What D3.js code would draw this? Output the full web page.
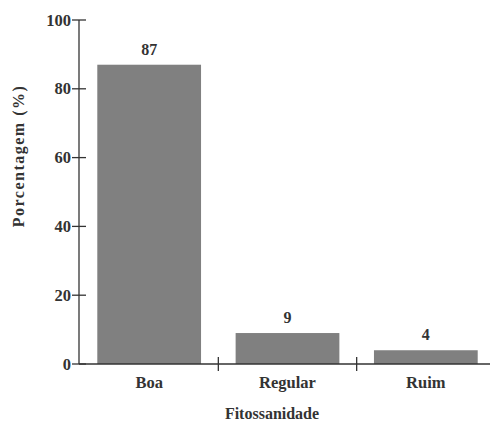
<!DOCTYPE html>
<html>
<head>
<meta charset="utf-8">
<script src="https://cdn.jsdelivr.net/npm/d3@7"></script>
<style>
  body { margin: 0; background: #fff; }
  text { font-family: "Liberation Serif", "DejaVu Serif", serif; font-weight: bold; fill: #333; }
</style>
</head>
<body>
<script>
const categories = ["Boa", "Regular", "Ruim"];
const values = [87, 9, 4];
const yTicks = [0, 20, 40, 60, 80, 100];

const width = 490, height = 421;
const svg = d3.select("body").append("svg")
  .attr("width", width)
  .attr("height", height);

const x = d3.scaleBand().domain(categories).range([80, 495]).paddingInner(0.25).paddingOuter(0.125);
const y = d3.scaleLinear().domain([0, 100]).range([364, 20]);

// bars
svg.append("g").selectAll("rect")
  .data(values)
  .enter()
  .append("rect")
  .attr("x", (d, i) => x(categories[i]))
  .attr("width", x.bandwidth())
  .attr("y", d => y(d))
  .attr("height", d => y(0) - y(d))
  .attr("fill", "#808080");

// value labels
svg.append("g").selectAll("text")
  .data(values)
  .enter()
  .append("text")
  .attr("x", (d, i) => x(categories[i]) + x.bandwidth() / 2)
  .attr("y", d => y(d) - 10)
  .attr("text-anchor", "middle")
  .style("font-size", "16px")
  .text(d => d);

// y axis
const yAxis = svg.append("g").attr("transform", "translate(79,0)");
yAxis.append("line").attr("y1", y(100)).attr("y2", y(0)).attr("stroke", "#333").attr("stroke-width", 1.3);
yAxis.selectAll(".tick").data(yTicks).enter().append("line")
  .attr("x1", -7).attr("x2", 7)
  .attr("y1", d => y(d)).attr("y2", d => y(d))
  .attr("stroke", "#333").attr("stroke-width", 1.3);
yAxis.selectAll(".lbl").data(yTicks).enter().append("text")
  .attr("x", -8)
  .attr("y", d => y(d) + 5.5)
  .attr("text-anchor", "end")
  .style("font-size", "16.5px")
  .text(d => d);

// x axis
const xAxis = svg.append("g").attr("transform", `translate(0,${y(0)})`);
xAxis.append("line").attr("x1", 79).attr("x2", 495).attr("stroke", "#333").attr("stroke-width", 1.3);
const step = x.step();
const bounds = categories.slice(1).map(c => x(c) - x.paddingInner() * step / 2);
xAxis.selectAll(".tick").data(bounds).enter().append("line")
  .attr("x1", d => d).attr("x2", d => d)
  .attr("y1", -7).attr("y2", 7)
  .attr("stroke", "#333").attr("stroke-width", 1.3);
xAxis.selectAll(".lbl").data(categories).enter().append("text")
  .attr("x", d => x(d) + x.bandwidth() / 2)
  .attr("y", 24)
  .attr("text-anchor", "middle")
  .style("font-size", "16.5px")
  .text(d => d);

// axis titles
svg.append("text")
  .attr("x", 272)
  .attr("y", 419)
  .attr("text-anchor", "middle")
  .style("font-size", "16px")
  .text("Fitossanidade");

svg.append("text")
  .attr("transform", "translate(24,156) rotate(-90)")
  .attr("text-anchor", "middle")
  .style("font-size", "16px")
  .style("letter-spacing", "1.5px")
  .text("Porcentagem (%)");
</script>
</body>
</html>
